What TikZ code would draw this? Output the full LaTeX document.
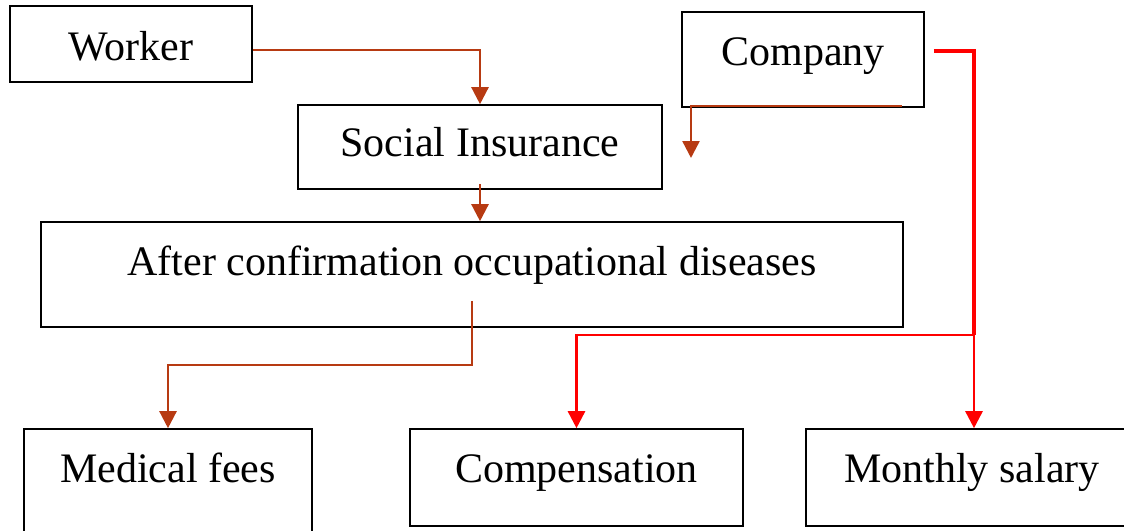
\documentclass[tikz,border=0pt]{standalone}
\usepackage{fontspec}
\setmainfont{Liberation Serif}
\usetikzlibrary{arrows.meta}
\definecolor{brn}{RGB}{183,58,18}
\definecolor{rd}{RGB}{255,0,0}
\begin{document}
\begin{tikzpicture}[x=1pt,y=-1pt,
  box/.style={draw=black, line width=1.6pt, inner sep=0pt, text depth=10pt,
    font=\fontsize{42}{48}\selectfont},
  brnarrow/.style={draw=brn, line width=2.4pt, -{Triangle[width=17pt,length=17pt]}},
  redthick/.style={draw=rd, line width=3.5pt},
  redarrow/.style={draw=rd, line width=2.6pt, -{Triangle[width=17pt,length=17pt]}}]
\useasboundingbox (0,0) rectangle (1124,530);
\clip (0,0) rectangle (1124,530);
\node[box, minimum width=242pt, minimum height=76pt, text height=42pt] (worker) at (131,44) {Worker};
\node[box, minimum width=242pt, minimum height=95pt, text height=21pt] (company) at (803,59.5) {Company};
\node[box, minimum width=364pt, minimum height=84pt, text height=28pt] (social) at (480,147) {Social Insurance};
\node[box, minimum width=862pt, minimum height=105pt, text height=11pt] (after) at (472,274.5) {After confirmation occupational diseases};
\node[box, minimum width=288pt, minimum height=111pt, text height=10pt, text depth=15pt] (medical) at (168,484.5) {Medical fees};
\node[box, minimum width=333pt, minimum height=97pt, text height=19pt] (comp) at (576.5,477.5) {Compensation};
\node[box, minimum width=332pt, minimum height=97pt, text height=19pt] (monthly) at (972,477.5) {Monthly salary};
\coordinate (cfree) at (691,158);
\coordinate (rj) at (974,335);
% brown connectors
\draw[brnarrow] ([yshift=-6pt]worker.east) -| (social.north);
\draw[brnarrow] ([yshift=6pt]social.south) -- (social.south |- after.north);
\draw[brnarrow] ([xshift=99pt,yshift=2pt]company.south) -| (cfree);
\draw[brnarrow] ([yshift=27pt]after.south) -- ++(0,64) -| (medical.north);
% red connectors
\draw[redthick] ([xshift=9pt,yshift=8.5pt]company.east) -| (rj);
\draw[redarrow] (rj) -| (comp.north);
\draw[redarrow] (rj) -- (rj |- monthly.north);
\end{tikzpicture}
\end{document}
